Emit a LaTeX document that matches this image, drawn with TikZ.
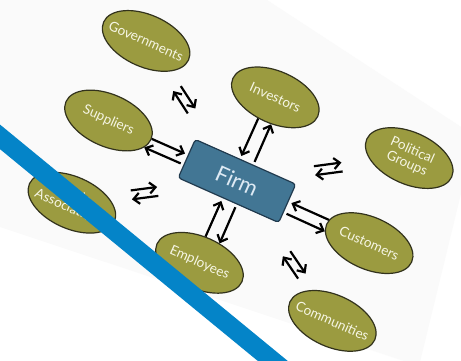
\documentclass[tikz,border=0pt]{standalone}
\usepackage{fontspec}
\setmainfont{Lato}
\usetikzlibrary{shapes.geometric,arrows.meta,calc}
\definecolor{olivefill}{RGB}{155,155,64}
\definecolor{olivedraw}{RGB}{50,50,28}
\definecolor{ellipsetext}{RGB}{246,246,228}
\definecolor{firmfill}{RGB}{66,118,148}
\definecolor{firmdraw}{RGB}{32,58,78}
\definecolor{firmtext}{RGB}{222,234,244}
\definecolor{bandblue}{RGB}{4,132,200}
\definecolor{pagegray}{RGB}{250,250,250}
\tikzset{
  stake/.style={ellipse, draw=olivedraw, fill=olivefill, line width=1.2pt,
    minimum width=93pt, minimum height=52pt, inner sep=0pt,
    text=ellipsetext, font=\fontsize{13.5}{14}\selectfont},
  firmbox/.style={rectangle, rounded corners=3pt, draw=firmdraw, fill=firmfill,
    line width=1.2pt, minimum width=110pt, minimum height=42pt, inner sep=0pt,
    text=firmtext, font=\fontsize{22}{24}\selectfont},
  arr/.style={line width=2.2pt, -{Straight Barb[length=6pt,width=11pt,line width=2.2pt]}},
  band/.style={line width=19pt, draw=bandblue},
}
\begin{document}
\begin{tikzpicture}[x=1pt,y=1pt]
\useasboundingbox (0,0) rectangle (461,-361);
\fill[white] (0,0) rectangle (461,-361);
\fill[pagegray] (0,0) -- (267,0) -- (475,-136) -- (419,-366) -- (0,-227) -- cycle;
\begin{scope}[shift={(237,-181)}, rotate=-24, transform shape]
  \node[firmbox] (firm) at (0,0) {Firm};
  \node[stake] (gov) at (-140,91) {\makebox[0pt]{Governments}};
  \node[stake] (sup) at (-142,3) {\makebox[0pt]{Suppliers}};
  \node[stake] (trade) at (-142,-87) {\makebox[0pt]{\begin{tabular}{@{}c@{}}Trade\\Associations\end{tabular}}};
  \node[stake] (inv) at (1,92) {\makebox[0pt]{Investors}};
  \node[stake] (emp) at (-1,-90) {\makebox[0pt]{Employees}};
  \node[stake] (pol) at (148,91) {\makebox[0pt]{\begin{tabular}{@{}c@{}}Political\\Groups\end{tabular}}};
  \node[stake] (cus) at (146,-3) {\makebox[0pt]{Customers}};
  \node[stake] (com) at (144,-89) {\makebox[0pt]{Communities}};
  % pairs touching the firm
  \draw[arr, shorten >=3pt] (sup.1) -- (firm.176);
  \draw[arr, shorten <=3pt] (firm.187) -- (sup.347);
  \draw[arr, shorten >=3pt] (cus.174) -- (firm.2);
  \draw[arr, shorten <=3pt] (firm.350) -- (cus.189);
  \draw[arr, shorten >=3pt] (inv.255) -- (firm.106);
  \draw[arr, shorten <=3pt] (firm.69) -- (inv.285);
  \draw[arr, shorten >=3pt] (emp.101) -- (firm.254);
  \draw[arr, shorten <=3pt] (firm.293) -- (emp.68);
  % floating pairs
  \draw[arr] ($(firm)!0.50!(gov)!4.5pt!90:(gov)$) -- ($(firm)!0.66!(gov)!4.5pt!90:(gov)$);
  \draw[arr] ($(firm)!0.66!(gov)!4.5pt!-90:(gov)$) -- ($(firm)!0.50!(gov)!4.5pt!-90:(gov)$);
  \draw[arr] ($(firm)!0.45!(pol)!4.5pt!90:(pol)$) -- ($(firm)!0.61!(pol)!4.5pt!90:(pol)$);
  \draw[arr] ($(firm)!0.61!(pol)!4.5pt!-90:(pol)$) -- ($(firm)!0.45!(pol)!4.5pt!-90:(pol)$);
  \draw[arr] ($(firm)!0.52!(com)!4.5pt!90:(com)$) -- ($(firm)!0.68!(com)!4.5pt!90:(com)$);
  \draw[arr] ($(firm)!0.68!(com)!4.5pt!-90:(com)$) -- ($(firm)!0.52!(com)!4.5pt!-90:(com)$);
  \draw[arr] ($(firm)!0.48!(trade)!4.5pt!90:(trade)$) -- ($(firm)!0.64!(trade)!4.5pt!90:(trade)$);
  \draw[arr] ($(firm)!0.64!(trade)!4.5pt!-90:(trade)$) -- ($(firm)!0.48!(trade)!4.5pt!-90:(trade)$);
\end{scope}
\draw[band] (-12,-127) -- (285,-371);
\end{tikzpicture}
\end{document}
